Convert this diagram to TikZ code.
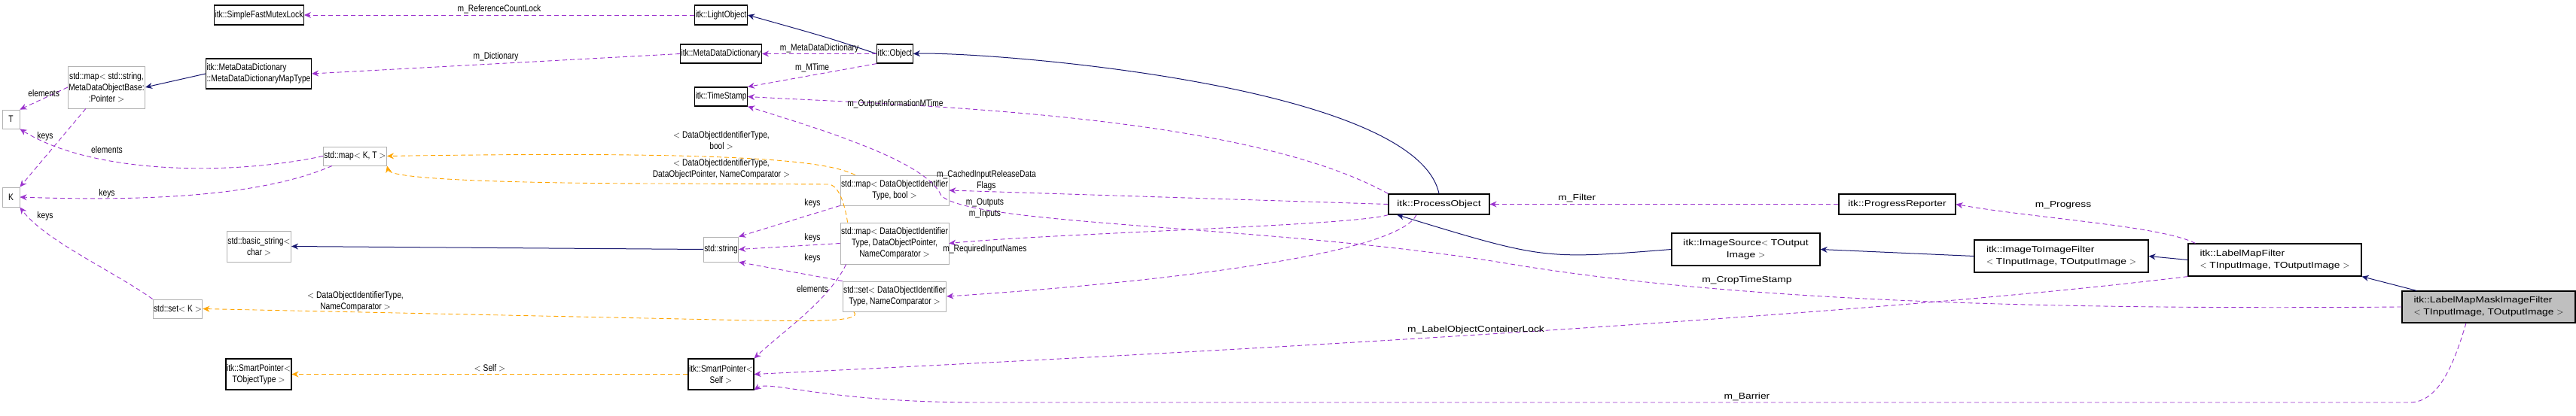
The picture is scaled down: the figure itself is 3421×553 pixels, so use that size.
\documentclass[tikz,border=0pt]{standalone}
\usepackage{fontspec}
\setmainfont{Liberation Sans}[FakeStretch=0.82]
\newfontfamily\widef{Liberation Sans}[FakeStretch=1.2]
\usetikzlibrary{arrows.meta}
\definecolor{purp}{HTML}{9A32CD}
\definecolor{navyc}{HTML}{191970}
\definecolor{orng}{HTML}{FFA500}
\tikzset{
 cls/.style={draw=black,line width=1.2pt,fill=white,inner sep=1pt,align=center,font=\fontsize{12.5}{15}\selectfont},
 stdc/.style={draw=gray!60,line width=0.9pt,fill=white,inner sep=1pt,align=center,font=\fontsize{12.5}{15}\selectfont},
 wcls/.style={cls,font=\widef\fontsize{11.5}{16}\selectfont},
 use/.style={draw=purp,dashed,dash pattern=on 6pt off 4pt,line width=0.9pt,-{Stealth[length=9pt,width=8pt]}},
 inh/.style={draw=navyc,line width=1pt,-{Stealth[length=9pt,width=8pt]}},
 tpl/.style={draw=orng,dashed,dash pattern=on 6pt off 4pt,line width=0.9pt,-{Stealth[length=9pt,width=8pt]}},
 lbl/.style={font=\fontsize{12.5}{15}\selectfont,align=center,inner sep=0pt},
 wlbl/.style={font=\widef\fontsize{11.5}{15}\selectfont,align=center,inner sep=0pt},
}
\begin{document}
\begin{tikzpicture}[x=1pt,y=-1pt]
\useasboundingbox (0,0) rectangle (3421,553);
\node[cls,minimum width=106,minimum height=26] (sfml) at (344,20) {itk::SimpleFastMutexLock};
\node[cls,minimum width=123,minimum height=40,align=left] (mdt) at (343.5,98) {itk::MetaDataDictionary\\::MetaDataDictionaryMapType};
\node[stdc,minimum width=97,minimum height=56] (mstr) at (141.5,116) {std::map$<$ std::string,\\MetaDataObjectBase:\\:Pointer $>$};
\node[stdc,minimum width=23,minimum height=25] (T) at (14.5,158.5) {T};
\node[stdc,minimum width=23,minimum height=26] (K) at (14.5,262) {K};
\node[stdc,minimum width=77,minimum height=25] (mkt) at (471.5,207.5) {std::map$<$ K, T $>$};
\node[stdc,minimum width=80,minimum height=41] (bstr) at (344,327.5) {std::basic\_string$<$\\char $>$};
\node[stdc,minimum width=62,minimum height=25] (setk) at (236,410.5) {std::set$<$ K $>$};
\node[cls,minimum width=83,minimum height=41] (spt) at (343.5,497.5) {itk::SmartPointer$<$\\TObjectType $>$};
\node[cls,minimum width=61,minimum height=26] (lo) at (957.5,20) {itk::LightObject};
\node[cls,minimum width=89,minimum height=25] (mdd) at (957.5,71.5) {itk::MetaDataDictionary};
\node[cls,minimum width=45,minimum height=25] (obj) at (1188.5,71.5) {itk::Object};
\node[cls,minimum width=61,minimum height=25] (ts) at (957.5,128.5) {itk::TimeStamp};
\node[stdc,minimum width=116,minimum height=40] (mb) at (1188,253) {std::map$<$ DataObjectIdentifier\\Type, bool $>$};
\node[stdc,minimum width=116,minimum height=55] (mp) at (1188,323.5) {std::map$<$ DataObjectIdentifier\\Type, DataObjectPointer,\\NameComparator $>$};
\node[stdc,minimum width=110,minimum height=40] (sd) at (1188,394) {std::set$<$ DataObjectIdentifier\\Type, NameComparator $>$};
\node[stdc,minimum width=45,minimum height=33] (str) at (957.5,331.5) {std::string};
\node[cls,minimum width=73,minimum height=41] (sps) at (957.5,497.5) {itk::SmartPointer$<$\\Self $>$};
\node[wcls,minimum width=134,minimum height=27] (po) at (1911,271.5) {itk::ProcessObject};
\node[wcls,minimum width=155,minimum height=27] (pr) at (2519.5,271.5) {itk::ProgressReporter};
\node[wcls,minimum width=197,minimum height=43] (is) at (2318.5,331.5) {itk::ImageSource$<$ TOutput\\Image $>$};
\node[wcls,minimum width=231,minimum height=43,align=left] (itif) at (2737.5,340.5) {itk::ImageToImageFilter\\$<$ TInputImage, TOutputImage $>$};
\node[wcls,minimum width=230,minimum height=43,align=left] (lmf) at (3021,345.5) {itk::LabelMapFilter\\$<$ TInputImage, TOutputImage $>$};
\node[wcls,fill=gray!50,minimum width=230,minimum height=42,align=left] (lmm) at (3305,408) {itk::LabelMapMaskImageFilter\\$<$ TInputImage, TOutputImage $>$};

\path (lmm.north west) ++(20,0) coordinate (lmmt);
\path (mstr.south west) ++(24,0) coordinate (ms1);
\path (mkt.south west) ++(12,0) coordinate (mk1);
\path (po.south) ++(-30,0) coordinate (po1);
\path (mp.south west) ++(8,0) coordinate (mp1);
\path (lmm.south) ++(-30,0) coordinate (lm1);
\path (lmf.north west) ++(10,0) coordinate (lf1);
\path (mb.north west) ++(20,0) coordinate (mb1);
\path (mp.north west) ++(10,0) coordinate (mp2);
\path (sd.south west) ++(15,0) coordinate (sd1);
\path (po.south west) ++(12,0) coordinate (po2);

% inheritance
\draw[inh] (obj.west) .. controls (1100,50) .. (lo.east);
\draw[inh] (mdt.west) -- (mstr.east);
\draw[inh] (str.west) -- (bstr.east);
\draw[inh] (po.north) .. controls (1880,110) and (1300,68) .. (obj.east);
\draw[inh] (is.west) .. controls (2050,345) .. (po2);
\draw[inh] (itif.west) -- (is.east);
\draw[inh] (lmf.west) -- (itif.east);
\draw[inh] (lmmt) -- (lmf.south east);

% usage
\draw[use] (lo.west) -- (sfml.east) node[lbl,pos=0.5,above=2pt] (l1) {m\_ReferenceCountLock};
\draw[use] (obj.west) -- (mdd.east) node[lbl,pos=0.5,above=1pt] (l2) {m\_MetaDataDictionary};
\draw[use] (mdd.west) -- (mdt.east) node[lbl,pos=0.5,above=3pt] (l3) {m\_Dictionary};
\draw[use] (obj.south west) -- (ts.north east) node[lbl,pos=0.5,above=4pt] (l4) {m\_MTime};
\draw[use] (mstr.west) -- (T.north east) node[lbl,pos=0.5,above=2pt] (l5) {elements};
\draw[use] (ms1) -- (K.north east);
\node[lbl] (l6) at (60,181) {keys};
\draw[use] (mkt.west) .. controls (300,235) and (120,230) .. (T.south east);
\node[lbl] (l7) at (142,199) {elements};
\draw[use] (mk1) .. controls (350,260) and (200,268) .. (K.east);
\node[lbl] (l8) at (142,257) {keys};
\draw[use] (setk.north west) .. controls (150,360) and (60,320) .. (K.south east);
\node[lbl] (l9) at (60,287) {keys};
\draw[use] (po.north west) .. controls (1650,150) and (1200,140) .. (ts.east);
\node[lbl] (l10) at (1189,138) {m\_OutputInformationMTime};
\draw[use] (lmm.west) .. controls (2700,412) and (2300,400) .. (2000,350) .. controls (1700,300) and (1290,300) .. (1250,260) .. controls (1230,215) and (1100,175) .. (ts.south east);
\node[wlbl] (l11) at (2320,373) {m\_CropTimeStamp};
\draw[use] (po.west) -- (mb.east);
\node[lbl] (l12) at (1310,240) {m\_CachedInputReleaseData\\Flags};
\draw[use] (po.south west) .. controls (1800,300) and (1400,310) .. (mp.east);
\node[lbl] (l13) at (1308,269) {m\_Outputs};
\node[lbl] (l14) at (1308,284) {m\_Inputs};
\draw[use] (po1) .. controls (1850,350) and (1400,385) .. (sd.east);
\node[lbl] (l15) at (1308,331) {m\_RequiredInputNames};
\draw[use] (mb.south west) -- (str.north east);
\node[lbl] (l16) at (1079,270) {keys};
\draw[use] (mp.west) -- (str.east);
\node[lbl] (l17) at (1079,316) {keys};
\draw[use] (sd.north west) -- (str.south east);
\node[lbl] (l18) at (1079,343) {keys};
\draw[use] (mp1) .. controls (1100,400) and (1040,440) .. (sps.north east);
\node[lbl] (l19) at (1079,384) {elements};
\draw[use] (lmf.south west) .. controls (2800,380) and (2400,430) .. (sps.east);
\node[wlbl] (l20) at (1960,439) {m\_LabelObjectContainerLock};
\draw[use] (lm1) .. controls (3260,480) and (3240,535) .. (3200,535) -- (1300,535) .. controls (1100,535) and (1020,505) .. (sps.south east);
\node[wlbl] (l21) at (2320,527) {m\_Barrier};
\draw[use] (pr.west) -- (po.east) node[wlbl,pos=0.75,above=2pt] (l22) {m\_Filter};
\draw[use] (lf1) .. controls (2870,300) and (2700,290) .. (pr.east);
\node[wlbl] (l23) at (2740,273) {m\_Progress};

% templates
\draw[tpl] (mb1) .. controls (1100,215) and (1000,200) .. (mkt.east);
\node[lbl] (l24) at (958,187) {$<$ DataObjectIdentifierType,\\bool $>$};
\draw[tpl] (mp2) .. controls (1120,260) and (1110,245) .. (1100,245) -- (880,244) .. controls (850,244) and (520,244) .. (mkt.south east);
\node[lbl] (l25) at (958,225) {$<$ DataObjectIdentifierType,\\DataObjectPointer, NameComparator $>$};
\draw[tpl] (sd1) .. controls (1150,430) and (1050,426) .. (1000,426) -- (setk.east);
\node[lbl] (l26) at (472,401) {$<$ DataObjectIdentifierType,\\NameComparator $>$};
\draw[tpl] (sps.west) -- (spt.east) node[lbl,pos=0.5,above=3pt] (l27) {$<$ Self $>$};
\end{tikzpicture}
\end{document}
